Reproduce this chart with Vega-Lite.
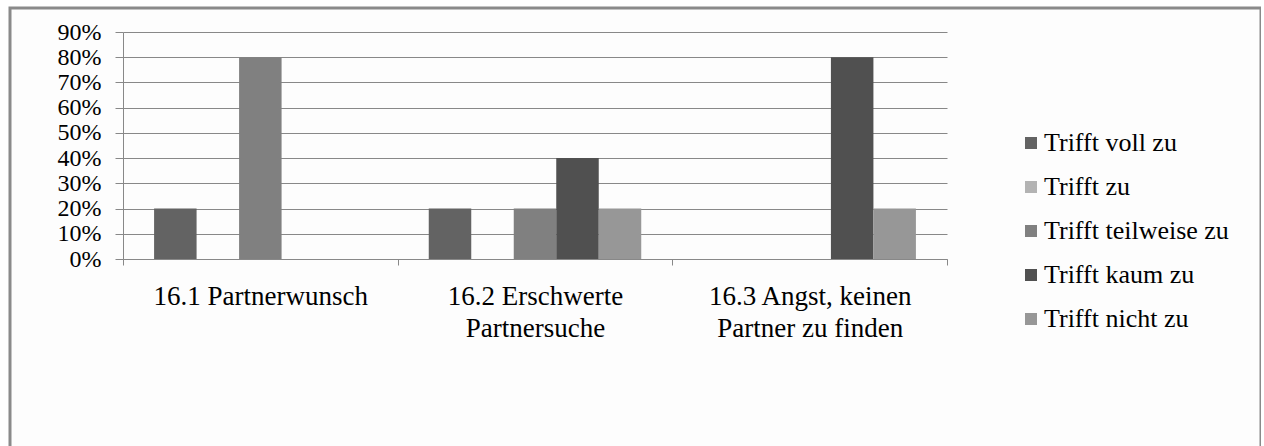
{
  "$schema": "https://vega.github.io/schema/vega-lite/v6.json",
  "autosize": "none",
  "width": 1251,
  "height": 446,
  "padding": {"left": 10, "top": 8, "right": 0, "bottom": 0},
  "background": "white",
  "config": {
    "view": {"stroke": "#8a8a8a", "strokeWidth": 3, "fill": "#fdfdfd"}
  },
  "data": {
    "values": [
      {"item": "16.1 Partnerwunsch", "series": "Trifft voll zu", "value": 0.2},
      {"item": "16.1 Partnerwunsch", "series": "Trifft zu", "value": 0},
      {"item": "16.1 Partnerwunsch", "series": "Trifft teilweise zu", "value": 0.8},
      {"item": "16.1 Partnerwunsch", "series": "Trifft kaum zu", "value": 0},
      {"item": "16.1 Partnerwunsch", "series": "Trifft nicht zu", "value": 0},
      {"item": "16.2 Erschwerte|Partnersuche", "series": "Trifft voll zu", "value": 0.2},
      {"item": "16.2 Erschwerte|Partnersuche", "series": "Trifft zu", "value": 0},
      {"item": "16.2 Erschwerte|Partnersuche", "series": "Trifft teilweise zu", "value": 0.2},
      {"item": "16.2 Erschwerte|Partnersuche", "series": "Trifft kaum zu", "value": 0.4},
      {"item": "16.2 Erschwerte|Partnersuche", "series": "Trifft nicht zu", "value": 0.2},
      {"item": "16.3 Angst, keinen|Partner zu finden", "series": "Trifft voll zu", "value": 0},
      {"item": "16.3 Angst, keinen|Partner zu finden", "series": "Trifft zu", "value": 0},
      {"item": "16.3 Angst, keinen|Partner zu finden", "series": "Trifft teilweise zu", "value": 0},
      {"item": "16.3 Angst, keinen|Partner zu finden", "series": "Trifft kaum zu", "value": 0.8},
      {"item": "16.3 Angst, keinen|Partner zu finden", "series": "Trifft nicht zu", "value": 0.2}
    ]
  },
  "mark": {"type": "bar"},
  "encoding": {
    "x": {
      "field": "item",
      "type": "nominal",
      "sort": null,
      "scale": {"range": [113, 937], "paddingInner": 0, "paddingOuter": 0},
      "axis": {
        "title": null,
        "orient": "bottom",
        "offset": -195,
        "labelAngle": 0,
        "domainColor": "#888888",
        "tickColor": "#888888",
        "tickSize": 6,
        "tickBand": "extent",
        "labelFont": "Liberation Serif",
        "labelFontSize": 27,
        "labelColor": "black",
        "labelPadding": 18,
        "labelLineHeight": 32,
        "labelBaseline": "top",
        "labelLimit": 0,
        "labelExpr": "split(datum.label, '|')",
        "grid": false
      }
    },
    "xOffset": {
      "field": "series",
      "type": "nominal",
      "sort": ["Trifft voll zu", "Trifft zu", "Trifft teilweise zu", "Trifft kaum zu", "Trifft nicht zu"],
      "scale": {"paddingInner": 0, "paddingOuter": 0.7315}
    },
    "y": {
      "field": "value",
      "type": "quantitative",
      "scale": {"domain": [0, 0.9], "range": [251, 24], "nice": false},
      "axis": {
        "title": null,
        "offset": -113,
        "values": [0, 0.1, 0.2, 0.3, 0.4, 0.5, 0.6, 0.7, 0.8, 0.9],
        "format": ".0%",
        "domainColor": "#888888",
        "tickColor": "#888888",
        "tickSize": 8,
        "grid": true,
        "gridColor": "#888888",
        "gridOpacity": 1,
        "labelFont": "Liberation Serif",
        "labelFontSize": 24,
        "labelColor": "black",
        "labelPadding": 14
      }
    },
    "color": {
      "field": "series",
      "type": "nominal",
      "scale": {
        "domain": ["Trifft voll zu", "Trifft zu", "Trifft teilweise zu", "Trifft kaum zu", "Trifft nicht zu"],
        "range": ["#636363", "#b3b3b3", "#808080", "#505050", "#979797"]
      },
      "legend": {
        "orient": "none",
        "legendX": 1008,
        "legendY": 122,
        "title": null,
        "symbolType": "square",
        "symbolSize": 144,
        "symbolStrokeWidth": 0,
        "labelFont": "Liberation Serif",
        "labelFontSize": 26,
        "labelColor": "black",
        "labelOffset": 0,
        "labelLimit": 0,
        "rowPadding": 18,
        "padding": 0
      }
    }
  }
}
